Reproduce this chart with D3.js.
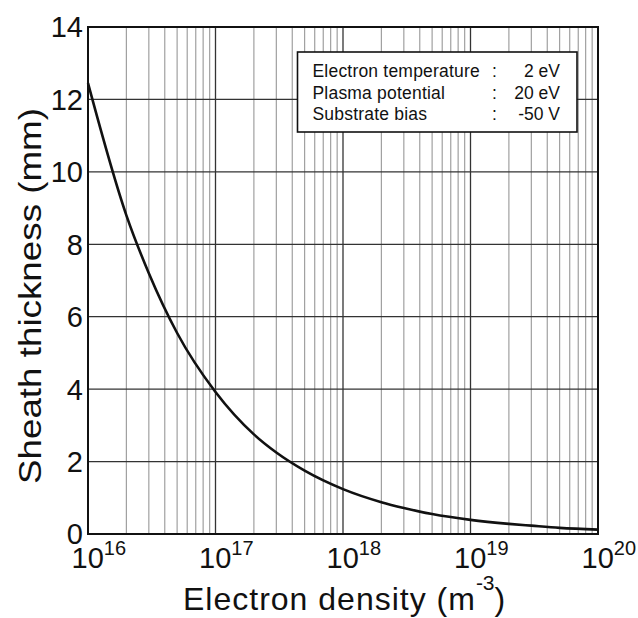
<!DOCTYPE html>
<html>
<head>
<meta charset="utf-8">
<script src="https://cdn.jsdelivr.net/npm/d3@7"></script>
<style>
  html, body { margin: 0; padding: 0; background: #fff; }
  svg { display: block; font-family: "Liberation Sans", Arial, Helvetica, sans-serif; }
</style>
</head>
<body>
<svg id="chart" width="638" height="618"></svg>
<script>
// ---- data ----
const density = [1e16, 2e16, 3e16, 5e16, 1e17, 2e17, 3e17, 5e17, 1e18, 2e18, 3e18, 5e18, 1e19, 2e19, 3e19, 5e19, 1e20];
const thickness = [12.45, 8.8, 7.2, 5.55, 3.92, 2.75, 2.25, 1.75, 1.24, 0.88, 0.72, 0.55, 0.39, 0.28, 0.23, 0.17, 0.12];
const xTickExps = [16, 17, 18, 19, 20];
const yTicks = [0, 2, 4, 6, 8, 10, 12, 14];
const legendLabels = ["Electron temperature", "Plasma potential", "Substrate bias"];
const legendValues = ["2 eV", "20 eV", "-50 V"];
const xTitle = "Electron density (m";
const xTitleSup = "-3";
const yTitle = "Sheath thickness (mm)";

// ---- layout ----
const L = 88, R = 598, T = 27, B = 534;
const svg = d3.select("#chart");
svg.append("rect").attr("width", 638).attr("height", 618).attr("fill", "#fff");

const x = d3.scaleLog().domain([1e16, 1e20]).range([L, R]);
const y = d3.scaleLinear().domain([0, 14]).range([B, T]);

// minor vertical grid
const minor = [];
for (let e = 16; e < 20; e++) for (let k = 2; k <= 9; k++) minor.push(k * Math.pow(10, e));
svg.append("g").selectAll("line").data(minor).join("line")
  .attr("x1", d => x(d)).attr("x2", d => x(d)).attr("y1", T).attr("y2", B)
  .attr("stroke", "#a0a0a0").attr("stroke-width", 1.2);

// major vertical grid
svg.append("g").selectAll("line").data(xTickExps.slice(1, -1)).join("line")
  .attr("x1", d => x(Math.pow(10, d))).attr("x2", d => x(Math.pow(10, d)))
  .attr("y1", T).attr("y2", B)
  .attr("stroke", "#333").attr("stroke-width", 1.3);

// horizontal grid
svg.append("g").selectAll("line").data(yTicks.slice(1, -1)).join("line")
  .attr("x1", L).attr("x2", R).attr("y1", d => y(d)).attr("y2", d => y(d))
  .attr("stroke", "#333").attr("stroke-width", 1.3);

// frame
svg.append("rect").attr("x", L).attr("y", T).attr("width", R - L).attr("height", B - T)
  .attr("fill", "none").attr("stroke", "#111").attr("stroke-width", 2);

// curve
const line = d3.line().x((d, i) => x(density[i])).y(d => y(d)).curve(d3.curveMonotoneX);
svg.append("path").datum(thickness).attr("d", line)
  .attr("fill", "none").attr("stroke", "#111").attr("stroke-width", 2.6);

// legend
const lg = svg.append("g");
lg.append("rect").attr("x", 297.5).attr("y", 52).attr("width", 279.5).attr("height", 80)
  .attr("fill", "#fff").attr("stroke", "#111").attr("stroke-width", 1.6);
legendLabels.forEach((t, i) => {
  const by = 77 + i * 21.7;
  lg.append("text").attr("x", 312.5).attr("y", by).attr("font-size", 17.5).attr("fill", "#111")
    .attr("letter-spacing", 0.2).text(t);
  lg.append("text").attr("x", 492).attr("y", by).attr("font-size", 17.5).attr("fill", "#111").text(":");
  lg.append("text").attr("x", 560).attr("y", by).attr("font-size", 17.5).attr("fill", "#111")
    .attr("text-anchor", "end").text(legendValues[i]);
});

// y tick labels
svg.append("g").selectAll("text").data(yTicks).join("text")
  .attr("x", 83).attr("y", d => y(d)).attr("dy", "0.36em")
  .attr("text-anchor", "end").attr("font-size", 29).attr("fill", "#111")
  .text(d => d);

// x tick labels
xTickExps.forEach(e => {
  const px = x(Math.pow(10, e));
  const t = svg.append("text").attr("x", px - 16.5).attr("y", 568).attr("font-size", 29).attr("fill", "#111");
  t.append("tspan").text("10");
  t.append("tspan").attr("dy", -13).attr("font-size", 20).text(e);
});

// axis titles
const xt = svg.append("text").attr("x", 183).attr("y", 610).attr("font-size", 32)
  .attr("letter-spacing", 1).attr("fill", "#111");
xt.append("tspan").text(xTitle);
xt.append("tspan").attr("dy", -20).attr("font-size", 21).attr("letter-spacing", 0).text(xTitleSup);
xt.append("tspan").attr("dy", 20).text(")");

svg.append("text").attr("transform", "translate(41,296) rotate(-90)")
  .attr("text-anchor", "middle").attr("font-size", 31).attr("fill", "#111")
  .attr("textLength", 376).attr("lengthAdjust", "spacingAndGlyphs")
  .text(yTitle);
</script>
</body>
</html>
